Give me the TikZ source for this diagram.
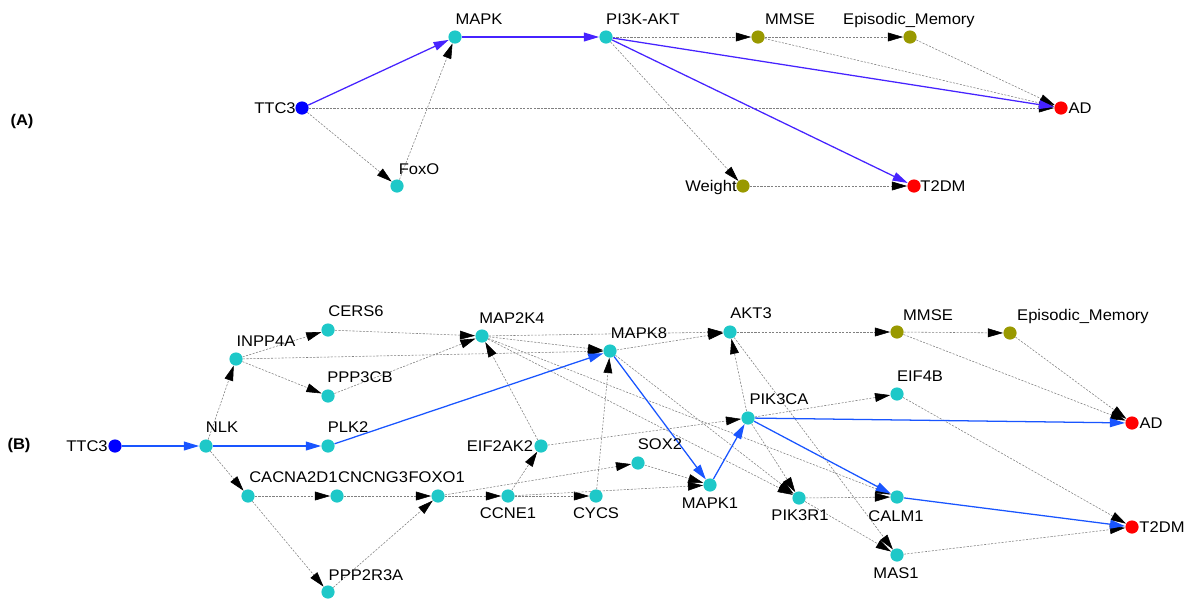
\documentclass[tikz,border=0pt]{standalone}
\usepackage{fontspec}
\setmainfont{Liberation Sans}[FakeStretch=1.07]
\usetikzlibrary{arrows.meta,backgrounds}

\definecolor{genecyan}{RGB}{30,200,200}
\definecolor{phenoolive}{RGB}{153,153,0}
\definecolor{pathA}{RGB}{70,35,255}
\definecolor{pathB}{RGB}{25,85,255}

\begin{document}
\begin{tikzpicture}[x=0.025cm, y=-0.025cm, font=\fontsize{11pt}{13pt}\selectfont,
  gene/.style={circle,fill=genecyan,minimum size=3.3mm,inner sep=0pt},
  src/.style={gene,fill=blue},
  pheno/.style={gene,fill=phenoolive},
  dis/.style={gene,fill=red},
  lbl/.style={inner sep=0pt,text height=1.38ex,text depth=0pt},
  hopA/.style={draw=pathA,line width=0.9pt,-{Triangle[length=3.8mm,width=2.2mm]}},
  hopB/.style={draw=pathB,line width=0.9pt,-{Triangle[length=3.8mm,width=2.2mm]}},
  dep/.style={draw=black!50,line width=0.4pt,dash pattern=on 1.5pt off 1pt,
    -{Triangle[length=3.8mm,width=2.2mm,color=black]}}]
  \useasboundingbox (0,0) rectangle (1191,600);

  % (A) pathway level
  \node[lbl,font=\fontsize{11pt}{13pt}\selectfont\bfseries] (tagA) at (22,120) {(A)};
  \node[src]   (aTTC)  at (302,108) {};  \node[lbl] (aTTCl)  at (275,108) {TTC3};
  \node[gene]  (aMAPK) at (455,37)  {};  \node[lbl] (aMAPKl) at (479,19)  {MAPK};
  \node[gene]  (aFoxO) at (397,186) {};  \node[lbl] (aFoxOl) at (419,169) {FoxO};
  \node[gene]  (aPI3K) at (606,37)  {};  \node[lbl] (aPI3Kl) at (643,19)  {PI3K-AKT};
  \node[pheno] (aMMSE) at (758,37)  {};  \node[lbl] (aMMSEl) at (790,19)  {MMSE};
  \node[pheno] (aEpi)  at (910,37)  {};  \node[lbl] (aEpil)  at (909,19)  {Episodic\_Memory};
  \node[pheno] (aWt)   at (743,186) {};  \node[lbl] (aWtl)   at (711,186) {Weight};
  \node[dis]   (aAD)   at (1061,108) {}; \node[lbl] (aADl)   at (1080,108) {AD};
  \node[dis]   (aT2DM) at (914,186) {};  \node[lbl] (aT2DMl) at (943,186) {T2DM};

  % (B) gene level
  \node[lbl,font=\fontsize{11pt}{13pt}\selectfont\bfseries] (tagB) at (19,444) {(B)};
  \node[src]   (bTTC)   at (115,446) {}; \node[lbl] (bTTCl)   at (87,446)  {TTC3};
  \node[gene]  (bNLK)   at (206,446) {}; \node[lbl] (bNLKl)   at (222,427) {NLK};
  \node[gene]  (bINPP)  at (236,359) {}; \node[lbl] (bINPPl)  at (266,341) {INPP4A};
  \node[gene]  (bCERS)  at (328,330) {}; \node[lbl] (bCERSl)  at (356,311) {CERS6};
  \node[gene]  (bPPP3)  at (328,396) {}; \node[lbl] (bPPP3l)  at (360,377) {PPP3CB};
  \node[gene]  (bPLK)   at (328,446) {}; \node[lbl] (bPLKl)   at (348,427) {PLK2};
  \node[gene]  (bCAC)   at (248,496) {}; \node[lbl,anchor=west] (bCACl) at (249,477) {CACNA2D1};
  \node[gene]  (bCNG)   at (337,496) {}; \node[lbl,anchor=west] (bCNGl) at (bCACl.east) {CNCNG3};
  \node[gene]  (bFOX)   at (438,496) {}; \node[lbl,anchor=west] (bFOXl) at (bCNGl.east) {FOXO1};
  \node[gene]  (bPPP2)  at (328,592) {}; \node[lbl] (bPPP2l)  at (366,575) {PPP2R3A};
  \node[gene]  (bM2K4)  at (482,336) {}; \node[lbl] (bM2K4l)  at (512,318) {MAP2K4};
  \node[gene]  (bMK8)   at (610,351) {}; \node[lbl] (bMK8l)   at (639,333) {MAPK8};
  \node[gene]  (bAKT3)  at (730,332) {}; \node[lbl] (bAKT3l)  at (751,313) {AKT3};
  \node[gene]  (bEIF2)  at (541,446) {}; \node[lbl] (bEIF2l)  at (500,446) {EIF2AK2};
  \node[gene]  (bCCNE)  at (508,496) {}; \node[lbl] (bCCNEl)  at (508,513) {CCNE1};
  \node[gene]  (bCYCS)  at (596,496) {}; \node[lbl] (bCYCSl)  at (596,513) {CYCS};
  \node[gene]  (bSOX2)  at (638,463) {}; \node[lbl] (bSOX2l)  at (660,444) {SOX2};
  \node[gene]  (bMK1)   at (710,485) {}; \node[lbl] (bMK1l)   at (710,503) {MAPK1};
  \node[gene]  (bPIKCA) at (748,418) {}; \node[lbl] (bPIKCAl) at (779,399) {PIK3CA};
  \node[gene]  (bPIKR1) at (799,498) {}; \node[lbl] (bPIKR1l) at (800,515) {PIK3R1};
  \node[gene]  (bEIF4B) at (897,394) {}; \node[lbl] (bEIF4Bl) at (920,376) {EIF4B};
  \node[gene]  (bCALM)  at (897,497) {}; \node[lbl] (bCALMl)  at (896,516) {CALM1};
  \node[gene]  (bMAS1)  at (897,555) {}; \node[lbl] (bMAS1l)  at (896,573) {MAS1};
  \node[pheno] (bMMSE)  at (897,332) {}; \node[lbl] (bMMSEl)  at (928,315) {MMSE};
  \node[pheno] (bEpi)   at (1010,333) {}; \node[lbl] (bEpil)  at (1083,315) {Episodic\_Memory};
  \node[dis]   (bAD)    at (1132,423) {}; \node[lbl] (bADl)   at (1151,423) {AD};
  \node[dis]   (bT2DM)  at (1132,527) {}; \node[lbl] (bT2DMl) at (1162,527) {T2DM};

  \begin{scope}[on background layer]
  % (A) edges
  \draw[dep] (aTTC) -- (aAD);   \draw[dep] (aTTC) -- (aFoxO);  \draw[dep] (aFoxO) -- (aMAPK);
  \draw[dep] (aPI3K) -- (aMMSE); \draw[dep] (aMMSE) -- (aEpi); \draw[dep] (aMMSE) -- (aAD);
  \draw[dep] (aEpi) -- (aAD);   \draw[dep] (aPI3K) -- (aWt);   \draw[dep] (aWt) -- (aT2DM);
  \draw[hopA] (aTTC) -- (aMAPK); \draw[hopA] (aMAPK) -- (aPI3K);
  \draw[hopA] (aPI3K) -- (aAD);  \draw[hopA] (aPI3K) -- (aT2DM);
  % (B) edges
  \draw[dep] (bNLK) -- (bINPP);  \draw[dep] (bNLK) -- (bCAC);
  \draw[dep] (bINPP) -- (bCERS); \draw[dep] (bINPP) -- (bPPP3); \draw[dep] (bINPP) -- (bMK8);
  \draw[dep] (bCERS) -- (bM2K4); \draw[dep] (bPPP3) -- (bM2K4);
  \draw[dep] (bCAC) -- (bCNG);   \draw[dep] (bCAC) -- (bPPP2);
  \draw[dep] (bCNG) -- (bFOX);   \draw[dep] (bPPP2) -- (bFOX);
  \draw[dep] (bFOX) -- (bCCNE);  \draw[dep] (bFOX) -- (bSOX2);
  \draw[dep] (bCCNE) -- (bEIF2); \draw[dep] (bCCNE) -- (bCYCS); \draw[dep] (bCCNE) -- (bMK1);
  \draw[dep] (bEIF2) -- (bM2K4); \draw[dep] (bEIF2) -- (bPIKCA);
  \draw[dep] (bCYCS) -- (bMK8);  \draw[dep] (bSOX2) -- (bMK1);
  \draw[dep] (bM2K4) -- (bMK8);  \draw[dep] (bM2K4) -- (bAKT3);
  \draw[dep] (bM2K4) -- (bPIKR1); \draw[dep] (bM2K4) -- (bCALM);
  \draw[dep] (bMK8) -- (bAKT3);  \draw[dep] (bMK8) -- (bPIKR1);
  \draw[dep] (bPIKCA) -- (bAKT3); \draw[dep] (bPIKCA) -- (bEIF4B); \draw[dep] (bPIKCA) -- (bPIKR1);
  \draw[dep] (bAKT3) -- (bMMSE); \draw[dep] (bAKT3) -- (bMAS1);
  \draw[dep] (bPIKR1) -- (bCALM); \draw[dep] (bPIKR1) -- (bMAS1);
  \draw[dep] (bMMSE) -- (bEpi);  \draw[dep] (bMMSE) -- (bAD);   \draw[dep] (bEpi) -- (bAD);
  \draw[dep] (bEIF4B) -- (bT2DM); \draw[dep] (bMAS1) -- (bT2DM);
  \draw[hopB] (bTTC) -- (bNLK);  \draw[hopB] (bNLK) -- (bPLK);  \draw[hopB] (bPLK) -- (bMK8);
  \draw[hopB] (bMK8) -- (bMK1);  \draw[hopB] (bMK1) -- (bPIKCA);
  \draw[hopB] (bPIKCA) -- (bAD); \draw[hopB] (bPIKCA) -- (bCALM); \draw[hopB] (bCALM) -- (bT2DM);
  \end{scope}
\end{tikzpicture}
\end{document}
